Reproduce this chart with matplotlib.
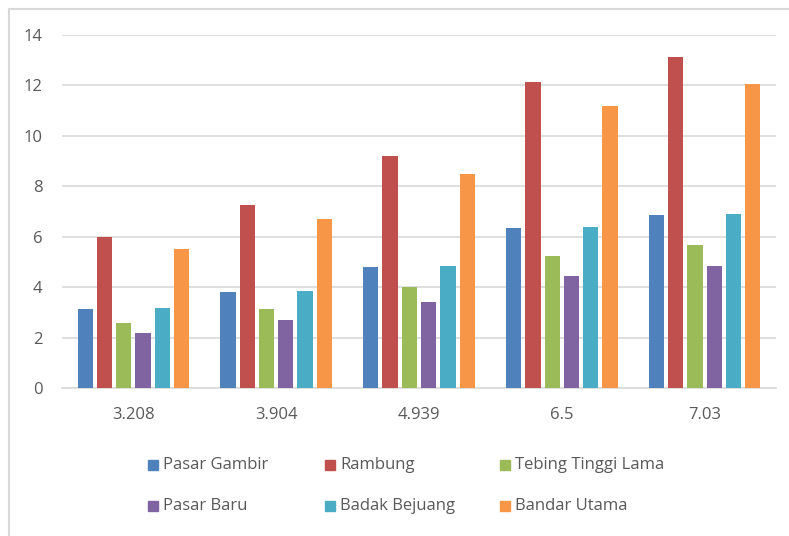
import numpy as np
import matplotlib
matplotlib.use("Agg")
import matplotlib.pyplot as plt
from matplotlib.patches import Rectangle
from matplotlib.lines import Line2D

categories = ["3.208", "3.904", "4.939", "6.5", "7.03"]
series_names = ["Pasar Gambir", "Rambung", "Tebing Tinggi Lama",
                "Pasar Baru", "Badak Bejuang", "Bandar Utama"]
pasar_gambir = [3.12, 3.79, 4.81, 6.35, 6.87]
rambung = [5.98, 7.27, 9.22, 12.13, 13.11]
tebing_tinggi_lama = [2.57, 3.13, 3.99, 5.25, 5.68]
pasar_baru = [2.20, 2.68, 3.40, 4.46, 4.83]
badak_bejuang = [3.16, 3.85, 4.85, 6.39, 6.91]
bandar_utama = [5.50, 6.71, 8.49, 11.17, 12.07]
yticks = [0, 2, 4, 6, 8, 10, 12, 14]

values = [pasar_gambir, rambung, tebing_tinggi_lama,
          pasar_baru, badak_bejuang, bandar_utama]
colors = ["#4F81BD", "#C0504D", "#9BBB59", "#8064A2", "#4BACC6", "#F79646"]
text_color = "#595959"

plt.rcParams["font.family"] = ["Open Sans", "DejaVu Sans"]

W, H = 789, 536
fig = plt.figure(figsize=(W / 100, H / 100), dpi=100)
ax = fig.add_axes([62 / W, 1 - 388 / H, (776 - 62) / W, (388 - 35) / H])

x = np.arange(len(categories))
step = 0.135
bw = 0.107
for i, (vals, col) in enumerate(zip(values, colors)):
    offs = (i - (len(values) - 1) / 2) * step
    ax.bar(x + offs, vals, width=bw, color=col, zorder=3)

ax.set_xlim(-0.5, len(categories) - 0.5)
ax.set_ylim(0, 14)
ax.set_yticks(yticks)
ax.set_xticks(x)
ax.set_xticklabels(categories)
ax.grid(axis="y", color="#D9D9D9", linewidth=1.2, zorder=0)
for s in ["top", "right", "left"]:
    ax.spines[s].set_visible(False)
ax.spines["bottom"].set_color("#D9D9D9")
ax.spines["bottom"].set_linewidth(1.2)
ax.tick_params(axis="both", length=0, labelsize=12, colors=text_color)
ax.tick_params(axis="y", pad=14)
ax.tick_params(axis="x", pad=14)

# legend, 3 columns x 2 rows
col_x = [148, 325, 500]
row_y = [465, 506]
for i, (name, col) in enumerate(zip(series_names, colors)):
    cx = col_x[i % 3]
    cy = row_y[i // 3]
    fig.patches.append(Rectangle((cx / W, 1 - (cy + 5) / H), 10 / W, 10 / H,
                                 transform=fig.transFigure, color=col))
    fig.text((cx + 15) / W, 1 - cy / H, name, fontsize=12,
             color=text_color, va="center", ha="left")

# outer frame (left and top edges visible)
fig.add_artist(Line2D([9 / W, 9 / W], [0, 1 - 9 / H], color="#D9D9D9",
                      linewidth=1.5, transform=fig.transFigure))
fig.add_artist(Line2D([9 / W, 1], [1 - 9 / H, 1 - 9 / H], color="#D9D9D9",
                      linewidth=1.5, transform=fig.transFigure))

fig.savefig("out.png", dpi=100)
